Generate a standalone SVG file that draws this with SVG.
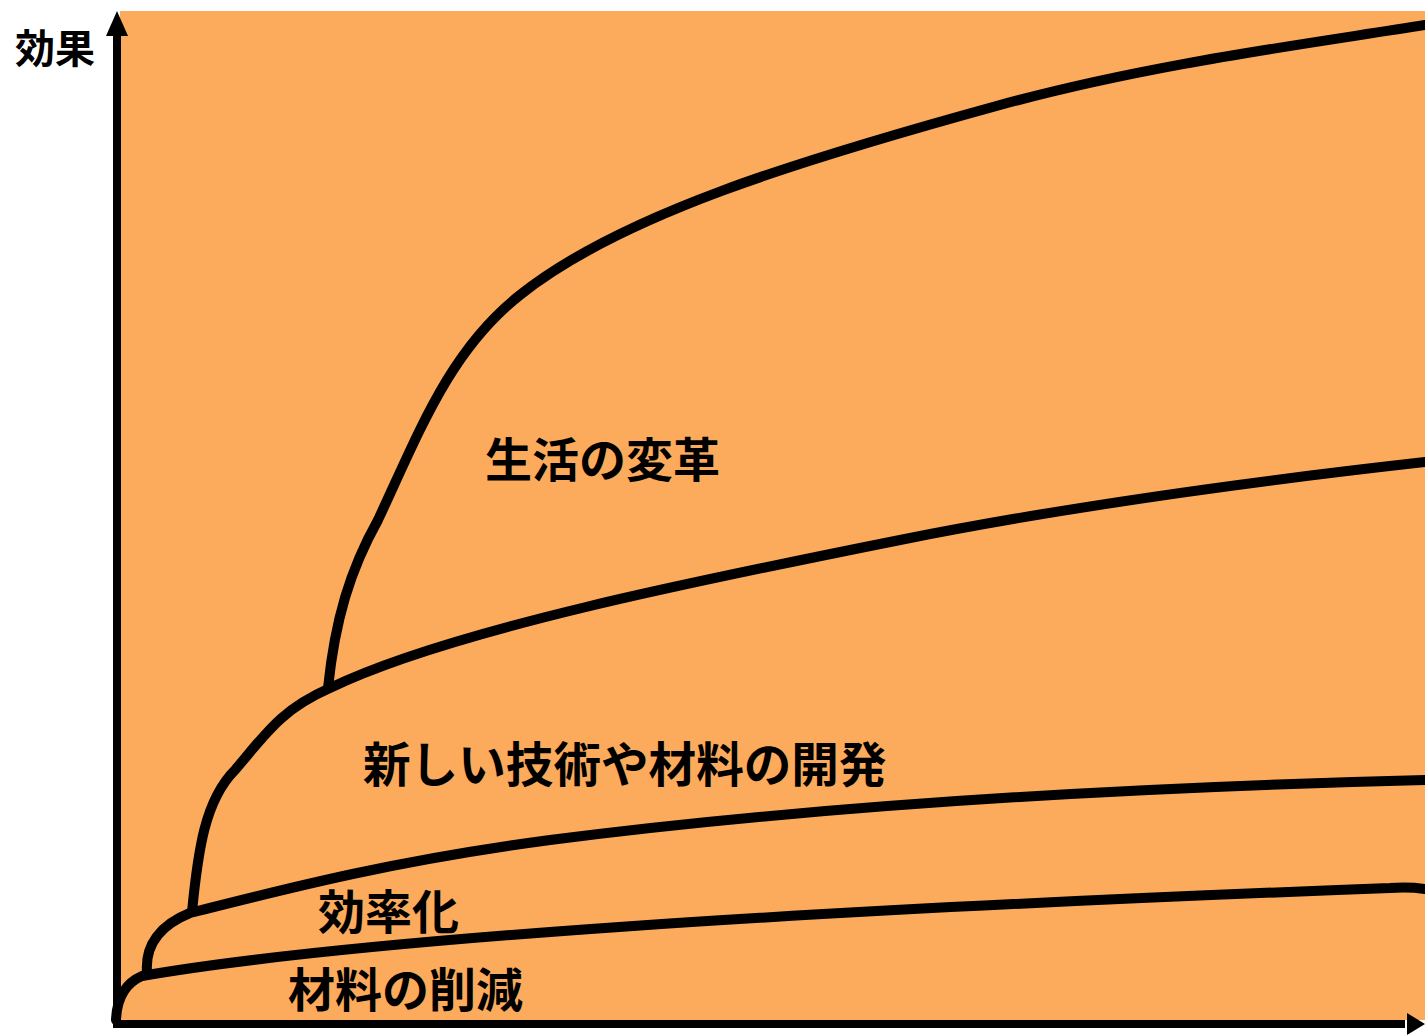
<svg xmlns="http://www.w3.org/2000/svg" width="1425" height="1035" viewBox="0 0 1425 1035">
<style>
.lbl{font-family:"Noto Sans CJK JP","Noto Sans",sans-serif;font-weight:bold;fill:#000}
.crv{fill:none;stroke:#000;stroke-width:10;stroke-linecap:round;stroke-linejoin:round}
.ax{stroke:#000;stroke-width:8;fill:none}
</style>
<rect x="120" y="11" width="1305" height="1009" fill="#FCAA5B"/>
<g id="connectors">
<path class="crv" d="M116,1020 C117,995 128,982 142,976 C350,940 800,910 1390,888 C1405,887 1418,888 1425,889"/>
<path class="crv" d="M147,972 C145,945 160,925 190,913 C300,885 400,860 550,840 C800,808 1100,788 1425,780"/>
<path class="crv" d="M192,912 C198,850 205,800 235,770 C265,735 280,710 330,688 C450,630 700,580 900,540 C1100,500 1300,476 1425,462"/>
<path class="crv" d="M328,688 C335,620 350,570 378,520 C420,430 450,350 520,295 C620,215 800,160 1000,105 C1150,64 1300,45 1425,25"/>
</g>
<g id="axes">
<line class="ax" x1="117" y1="1028" x2="117" y2="32"/>
<polygon points="117,11 106,36 128,36" fill="#000"/>
<line class="ax" x1="113" y1="1024" x2="1405" y2="1024"/>
<polygon points="1425,1024 1407,1013 1407,1035" fill="#000"/>
</g>
<g id="label-y"><text class="lbl" x="15" y="63" font-size="40">効果</text></g>
<g id="label-life"><text class="lbl" x="485" y="477" font-size="47">生活の変革</text></g>
<g id="label-tech"><text class="lbl" x="363" y="782" font-size="47.6">新しい技術や材料の開発</text></g>
<g id="label-eff"><text class="lbl" x="318" y="929" font-size="47">効率化</text></g>
<g id="label-mat"><text class="lbl" x="288" y="1007" font-size="47">材料の削減</text></g>
</svg>
